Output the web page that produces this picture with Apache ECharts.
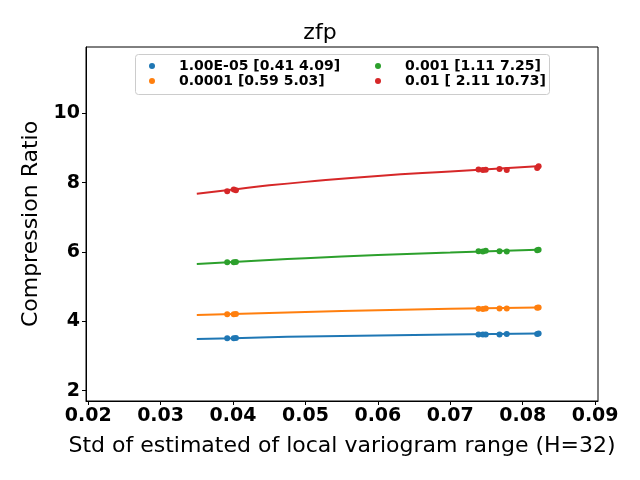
<!DOCTYPE html>
<html><head><meta charset="utf-8">
<script src="https://cdn.jsdelivr.net/npm/echarts@6/dist/echarts.min.js"></script>
<style>html,body{margin:0;padding:0;background:#fff}#c{width:640px;height:480px}</style>
</head><body><div id="c"></div>
<script>
var seriesNames = ['1.00E-05 [0.41 4.09]', '0.0001 [0.59 5.03]', '0.001 [1.11 7.25]', '0.01 [ 2.11 10.73]'];
var colors = ['#1f77b4', '#ff7f0e', '#2ca02c', '#d62728'];
var pointX = [0.0392, 0.0401, 0.0404, 0.0739, 0.0745, 0.0749, 0.0768, 0.0778, 0.0820, 0.0822];
var pointsBlue   = [3.51, 3.51, 3.52, 3.62, 3.62, 3.62, 3.62, 3.63, 3.63, 3.65];
var pointsOrange = [4.20, 4.20, 4.21, 4.36, 4.35, 4.37, 4.37, 4.37, 4.39, 4.40];
var pointsGreen  = [5.70, 5.70, 5.71, 6.02, 6.01, 6.03, 6.02, 6.01, 6.05, 6.06];
var pointsRed    = [7.75, 7.80, 7.78, 8.38, 8.36, 8.37, 8.39, 8.36, 8.42, 8.47];
var fitX = [0.035, 0.040, 0.045, 0.050, 0.060, 0.070, 0.082];
var fitBlue   = [3.49, 3.51, 3.54, 3.56, 3.59, 3.62, 3.65];
var fitOrange = [4.18, 4.21, 4.24, 4.27, 4.32, 4.36, 4.40];
var fitGreen  = [5.65, 5.71, 5.77, 5.82, 5.91, 5.98, 6.06];
var fitRed    = [7.68, 7.80, 7.92, 8.02, 8.19, 8.32, 8.47];
var xTicks = [0.02, 0.03, 0.04, 0.05, 0.06, 0.07, 0.08, 0.09];
var yTicks = [2, 4, 6, 8, 10];

var pointSets = [pointsBlue, pointsOrange, pointsGreen, pointsRed];
var fitSets = [fitBlue, fitOrange, fitGreen, fitRed];
function zip(xs, ys){ return xs.map(function(x,i){ return [x, ys[i]]; }); }

var series = [];
for (var i = 0; i < 4; i++) {
  series.push({
    type: 'line', name: 'fit' + i, data: zip(fitX, fitSets[i]), smooth: true,
    showSymbol: false, lineStyle: {color: colors[i], width: 2}, itemStyle: {color: colors[i]},
    z: 2, silent: true
  });
  series.push({
    type: 'scatter', name: seriesNames[i], data: zip(pointX, pointSets[i]),
    symbolSize: 6, itemStyle: {color: colors[i], opacity: 1}, z: 3
  });
}

var tickFont = {fontFamily: 'DejaVu Sans', fontWeight: 'bold', fontSize: 19, color: '#000'};
var legendText = {fontFamily: 'DejaVu Sans', fontWeight: 'bold', fontSize: 14, color: '#000'};
var chart = echarts.init(document.getElementById('c'));
chart.setOption({
  animation: false,
  backgroundColor: '#fff',
  title: {text: 'zfp', left: 'center', top: 22, padding: 0, textStyle: {fontFamily: 'DejaVu Sans', fontWeight: 'normal', fontSize: 22, color: '#000'}},
  grid: {left: 86, right: 42, top: 47, bottom: 79, show: true, borderColor: '#000', borderWidth: 1, backgroundColor: 'transparent'},
  legend: [
    {data: [seriesNames[0], seriesNames[1]], orient: 'vertical', left: 149, top: 59, itemGap: 1, padding: 0,
     icon: 'circle', itemWidth: 6, itemHeight: 6, textStyle: Object.assign({padding: [0,0,0,19]}, legendText)},
    {data: [seriesNames[2], seriesNames[3]], orient: 'vertical', left: 375, top: 59, itemGap: 1, padding: 0,
     icon: 'circle', itemWidth: 6, itemHeight: 6, textStyle: Object.assign({padding: [0,0,0,19]}, legendText)}
  ],
  graphic: [{type: 'rect', shape: {x: 135.5, y: 54.5, width: 414, height: 40, r: 3},
    style: {fill: 'rgba(255,255,255,0.8)', stroke: '#ccc', lineWidth: 1}, z: 0}],
  xAxis: {
    type: 'value', min: 0.0197, max: 0.0904,
    name: 'Std of estimated of local variogram range (H=32)', nameLocation: 'middle', nameGap: 34,
    nameTextStyle: {fontFamily: 'DejaVu Sans', fontSize: 22, color: '#000'},
    axisLine: {show: true, onZero: false, lineStyle: {color: '#000'}},
    axisTick: {show: true, length: 4, customValues: xTicks, lineStyle: {color: '#000'}},
    axisLabel: Object.assign({customValues: xTicks, margin: 6, formatter: function(v){ return v.toFixed(2); }}, tickFont),
    splitLine: {show: false}
  },
  yAxis: {
    type: 'value', min: 1.70, max: 11.91,
    name: 'Compression Ratio', nameLocation: 'middle', nameGap: 43,
    nameTextStyle: {fontFamily: 'DejaVu Sans', fontSize: 22, color: '#000'},
    axisLine: {show: true, onZero: false, lineStyle: {color: '#000'}},
    axisTick: {show: true, length: 4, customValues: yTicks, lineStyle: {color: '#000'}},
    axisLabel: Object.assign({customValues: yTicks, margin: 6}, tickFont),
    splitLine: {show: false}
  },
  series: series
});
</script></body></html>
